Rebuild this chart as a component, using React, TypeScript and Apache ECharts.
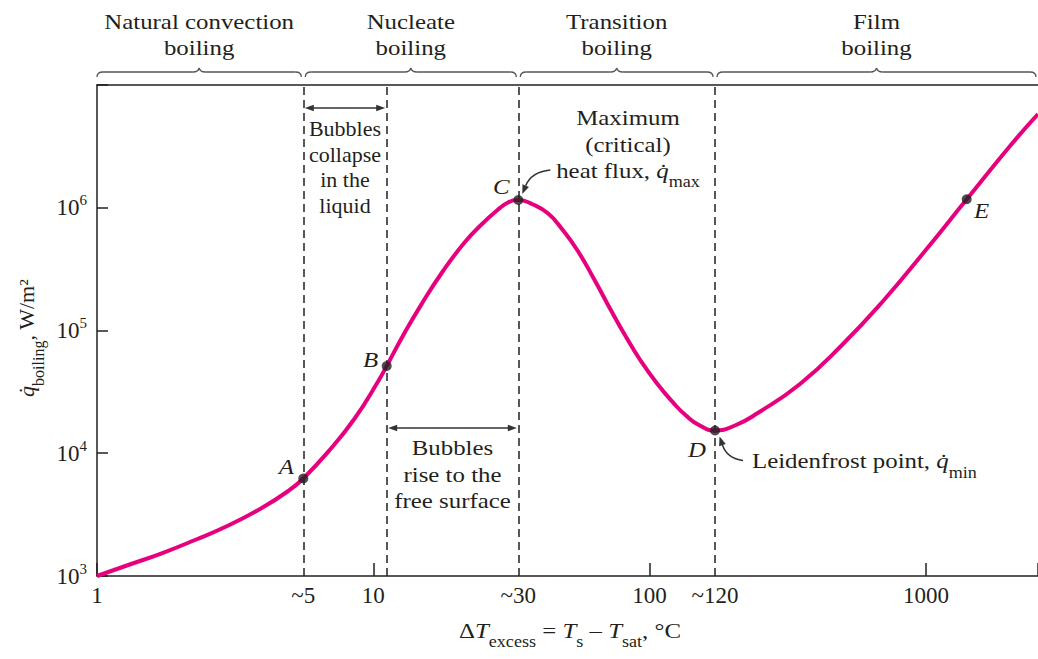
import React, { useEffect, useRef } from 'react';
import * as echarts from 'echarts';

// ---- Data (ΔT_excess in °C, q̇ in W/m²) ----
const curveDeltaT = [
  1, 1.298, 1.715, 2.263, 2.987, 3.946, 4.924, 5.58, 6.873, 8.586, 10.43, 11.18, 12.91, 15.01, 17.88, 21.28, 24.54,
  28.15, 30.73, 33.48, 37.84, 42.84, 48.19, 54.7, 62.92, 72.37, 81.8, 92.47, 106.4, 122.3, 135.4, 150.8, 172.5,
  203.7, 246.2, 350.3, 497, 705.3, 992.4, 1405, 2016, 2545,
];
const curveHeatFlux = [
  1000, 1229, 1530, 1965, 2578, 3581, 4926, 6230, 10300, 19380, 38780, 51400, 93650, 166500, 305200, 513300, 723600,
  958900, 1104000, 1157000, 1063000, 901000, 671300, 452700, 262800, 146900, 90210, 57500, 37000, 25520, 20300, 16990, 15320,
  16830, 21280, 36660, 76190, 177200, 444300, 1172000, 3185000, 5802000,
];

const pointNames = ['A', 'B', 'C', 'D', 'E'];
const pointDeltaT = [5.58, 11.18, 33.48, 172.5, 1405];
const pointHeatFlux = [6230, 51400, 1157000, 15320, 1172000];

const regionNames = ['Natural convection\nboiling', 'Nucleate\nboiling', 'Transition\nboiling', 'Film\nboiling'];
const regionBounds = [1, 5.58, 33.48, 172.5, 2545];
const boundaryLines = [5.58, 11.18, 33.48, 172.5];

const xTickValues = [1, 5.58, 10, 33.48, 100, 172.5, 1000];
const xTickLabels = ['1', '~5', '10', '~30', '100', '~120', '1000'];
const yTickExponents = [3, 4, 5, 6];

const X_MIN = 1;
const X_MAX = 2545;
const Y_MIN = 1e3;
const Y_MAX = 1e7;

// ---- styles ----
const INK = '#231f20';
const GREY = '#555555';
const ARROW = '#333333';
const MAGENTA = '#e6007e';
const FONT = '"Liberation Serif", "Times New Roman", Times, serif';
const SX = 1.13;
const pointLabelOffset: Record<string, [number, number]> = {
  A: [-17, -12],
  B: [-16, -6],
  C: [-17, -13],
  D: [-18, 19],
  E: [15, 11],
};

function text(x: number, y: number, content: string, extra: any = {}, scaleX = SX) {
  return {
    type: 'text',
    x,
    y,
    scaleX,
    z: 10,
    silent: true,
    style: {
      text: content,
      fill: INK,
      fontFamily: FONT,
      fontSize: 22,
      align: 'center',
      textAlign: 'center',
      verticalAlign: 'top',
      textVerticalAlign: 'top',
      lineHeight: 26,
      ...extra,
    },
  };
}

function brace(x0: number, x1: number, y: number) {
  const st = { stroke: GREY, lineWidth: 1.3, fill: null };
  const xm = (x0 + x1) / 2;
  const r = 6;
  const he = 5;
  const hm = 4;
  return [
    { type: 'bezierCurve', z: 10, silent: true, shape: { x1: x0, y1: y + he, cpx1: x0, cpy1: y, x2: x0 + r, y2: y }, style: st },
    { type: 'line', z: 10, silent: true, shape: { x1: x0 + r, y1: y, x2: xm - r, y2: y }, style: st },
    { type: 'bezierCurve', z: 10, silent: true, shape: { x1: xm - r, y1: y, cpx1: xm - 1, cpy1: y, x2: xm, y2: y - hm }, style: st },
    { type: 'bezierCurve', z: 10, silent: true, shape: { x1: xm, y1: y - hm, cpx1: xm + 1, cpy1: y, x2: xm + r, y2: y }, style: st },
    { type: 'line', z: 10, silent: true, shape: { x1: xm + r, y1: y, x2: x1 - r, y2: y }, style: st },
    { type: 'bezierCurve', z: 10, silent: true, shape: { x1: x1 - r, y1: y, cpx1: x1, cpy1: y, x2: x1, y2: y + he }, style: st },
  ];
}

function dblArrow(xa: number, xb: number, y: number) {
  const L = 9;
  const W = 3.2;
  return [
    { type: 'line', z: 10, silent: true, shape: { x1: xa + 3, y1: y, x2: xb - 3, y2: y }, style: { stroke: ARROW, lineWidth: 1.3 } },
    { type: 'polygon', z: 10, silent: true, shape: { points: [[xa, y], [xa + L, y - W], [xa + L, y + W]] }, style: { fill: ARROW } },
    { type: 'polygon', z: 10, silent: true, shape: { points: [[xb, y], [xb - L, y - W], [xb - L, y + W]] }, style: { fill: ARROW } },
  ];
}

function curvedArrow(sx: number, sy: number, cx: number, cy: number, ex: number, ey: number) {
  const dx = ex - cx;
  const dy = ey - cy;
  const len = Math.hypot(dx, dy);
  const ux = dx / len;
  const uy = dy / len;
  const L = 9;
  const W = 3.5;
  const bx = ex - ux * L;
  const by = ey - uy * L;
  return [
    { type: 'bezierCurve', z: 10, silent: true, shape: { x1: sx, y1: sy, cpx1: cx, cpy1: cy, x2: bx, y2: by }, style: { stroke: ARROW, lineWidth: 1.5, fill: null } },
    { type: 'polygon', z: 10, silent: true, shape: { points: [[ex, ey], [bx - uy * W, by + ux * W], [bx + uy * W, by - ux * W]] }, style: { fill: ARROW } },
  ];
}

export default function App() {
  const ref = useRef<HTMLDivElement>(null);

  useEffect(() => {
    const el = ref.current;
    if (!el) return;
    const chart = echarts.init(el, null, { renderer: 'svg' });
    const axisLine = { color: INK, width: 1.5 };

    chart.setOption({
      animation: false,
      grid: { left: 97, right: 0, top: 85, bottom: 83, containLabel: false, outerBoundsMode: 'none' },
      xAxis: [
        {
          type: 'log',
          logBase: 10,
          min: X_MIN,
          max: X_MAX,
          position: 'bottom',
          axisLine: { show: true, onZero: false, lineStyle: axisLine },
          axisTick: { show: true, inside: true, length: 13, lineStyle: axisLine },
          minorTick: { show: false },
          splitLine: { show: false },
          axisLabel: {
            show: true,
            customValues: xTickValues,
            margin: 8,
            color: INK,
            fontFamily: FONT,
            fontSize: 23,
            formatter: (v: number) => {
              const i = xTickValues.findIndex((t) => Math.abs(Math.log10(t) - Math.log10(v)) < 1e-3);
              return i >= 0 ? xTickLabels[i] : '';
            },
          },
        },
        {
          type: 'log',
          logBase: 10,
          min: X_MIN,
          max: X_MAX,
          position: 'top',
          axisLine: { show: true, onZero: false, lineStyle: axisLine },
          axisTick: { show: false },
          axisLabel: { show: false },
          splitLine: { show: false },
        },
      ],
      yAxis: {
        type: 'log',
        logBase: 10,
        min: Y_MIN,
        max: Y_MAX,
        axisLine: { show: true, onZero: false, lineStyle: axisLine },
        axisTick: { show: true, inside: true, length: 11, lineStyle: axisLine },
        minorTick: { show: false },
        splitLine: { show: false },
        axisLabel: {
          margin: 10,
          formatter: (v: number) => {
            const e = Math.round(Math.log10(v));
            return yTickExponents.includes(e) ? `{b|10}{s|${e}}` : '';
          },
          rich: {
            b: { fontSize: 23, fontFamily: FONT, color: INK, lineHeight: 30 },
            s: { fontSize: 15, fontFamily: FONT, color: INK, lineHeight: 15, verticalAlign: 'top' },
          },
        },
      },
      series: [
        {
          type: 'line',
          data: curveDeltaT.map((x, i) => [x, curveHeatFlux[i]]),
          smooth: 0.5,
          symbol: 'none',
          silent: true,
          z: 2,
          lineStyle: { color: MAGENTA, width: 4 },
          markLine: {
            silent: true,
            z: 1,
            symbol: ['none', 'none'],
            label: { show: false },
            emphasis: { disabled: true },
            lineStyle: { color: INK, width: 1.5, type: [8, 5] },
            data: boundaryLines.map((x) => ({ xAxis: x })),
          },
        },
        {
          type: 'scatter',
          data: pointDeltaT.map((x, i) => [x, pointHeatFlux[i]]),
          symbol: 'circle',
          symbolSize: 10,
          silent: true,
          z: 4,
          itemStyle: { color: INK },
        },
      ],
    });

    const px = (v: number) => chart.convertToPixel({ xAxisIndex: 0 }, v) as number;
    const py = (v: number) => chart.convertToPixel({ yAxisIndex: 0 }, v) as number;

    const els: any[] = [];

    // region braces and headers
    for (let i = 0; i < regionNames.length; i++) {
      const x0 = px(regionBounds[i]) + (i === 0 ? 0 : 2);
      const x1 = px(regionBounds[i + 1]) - 2;
      els.push(...brace(x0, x1, 72));
      els.push(text((x0 + x1) / 2, 8.6, regionNames[i]));
    }

    // point letters
    pointNames.forEach((n, i) => {
      const [dx, dy] = pointLabelOffset[n];
      els.push(
        text(px(pointDeltaT[i]) + dx, py(pointHeatFlux[i]) + dy, n, {
          fontStyle: 'italic',
          verticalAlign: 'middle',
          textVerticalAlign: 'middle',
          lineHeight: 22,
        })
      );
    });

    // bubbles collapse
    const xA = px(boundaryLines[0]);
    const xB = px(boundaryLines[1]);
    const xC = px(boundaryLines[2]);
    els.push(...dblArrow(xA + 1.5, xB - 1.5, 108));
    els.push(text((xA + xB) / 2, 115.4, 'Bubbles\ncollapse\nin the\nliquid', { lineHeight: 25.8 }, 1.0));

    // bubbles rise
    els.push(...dblArrow(xB + 1.5, xC - 1.5, 428));
    els.push(text((xB + xC) / 2, 434.3, 'Bubbles\nrise to the\nfree surface', { lineHeight: 26.6 }));

    // maximum heat flux
    els.push(text(628, 104.4, 'Maximum\n(critical)', { lineHeight: 26.5 }));
    els.push(
      text(628, 170.6, '{n|heat flux, }{i|q\u0307}{s|max}', {
        verticalAlign: 'middle',
        textVerticalAlign: 'middle',
        rich: {
          n: { fontSize: 22, fontFamily: FONT, fill: INK, lineHeight: 38 },
          i: { fontSize: 22, fontFamily: FONT, fill: INK, fontStyle: 'italic', lineHeight: 38 },
          s: { fontSize: 16, fontFamily: FONT, fill: INK, lineHeight: 16, verticalAlign: 'bottom' },
        },
      })
    );
    const cx = px(pointDeltaT[2]);
    const cy = py(pointHeatFlux[2]);
    els.push(...curvedArrow(cx + 32, cy - 30, cx + 13, cy - 28, cx + 4, cy - 6));

    // Leidenfrost
    els.push(
      text(752, 460.9, '{n|Leidenfrost point, }{i|q\u0307}{s|min}', {
        align: 'left',
        textAlign: 'left',
        verticalAlign: 'middle',
        textVerticalAlign: 'middle',
        rich: {
          n: { fontSize: 22, fontFamily: FONT, fill: INK, lineHeight: 40 },
          i: { fontSize: 22, fontFamily: FONT, fill: INK, fontStyle: 'italic', lineHeight: 40 },
          s: { fontSize: 16, fontFamily: FONT, fill: INK, lineHeight: 16, verticalAlign: 'bottom' },
        },
      })
    );
    const dxp = px(pointDeltaT[3]);
    const dyp = py(pointHeatFlux[3]);
    els.push(...curvedArrow(dxp + 28, dyp + 30, dxp + 12, dyp + 28, dxp + 4.5, dyp + 6));

    // x-axis title
    els.push(
      text(570, 630.9, '{n|\u0394}{i|T}{s|excess}{n| = }{i|T}{s|s}{n| \u2013 }{i|T}{s|sat}{n|, \u00b0C}', {
        verticalAlign: 'middle',
        textVerticalAlign: 'middle',
        rich: {
          n: { fontSize: 22, fontFamily: FONT, fill: INK, lineHeight: 37 },
          i: { fontSize: 22, fontFamily: FONT, fill: INK, fontStyle: 'italic', lineHeight: 37 },
          s: { fontSize: 16, fontFamily: FONT, fill: INK, lineHeight: 16, verticalAlign: 'bottom' },
        },
      })
    );

    // y-axis title (rotated)
    els.push({
      type: 'text',
      x: 26,
      y: 338,
      rotation: Math.PI / 2,
      z: 10,
      silent: true,
      style: {
        text: '{i|q\u0307}{s|boiling}{n|, W/m\u00b2}',
        fill: INK,
        fontFamily: FONT,
        fontSize: 22,
        align: 'center',
        textAlign: 'center',
        verticalAlign: 'middle',
        textVerticalAlign: 'middle',
        rich: {
          n: { fontSize: 22, fontFamily: FONT, fill: INK, lineHeight: 40 },
          i: { fontSize: 22, fontFamily: FONT, fill: INK, fontStyle: 'italic', lineHeight: 40 },
          s: { fontSize: 16, fontFamily: FONT, fill: INK, lineHeight: 16, verticalAlign: 'bottom' },
        },
      },
    });

    chart.setOption({ graphic: { elements: els } });

    return () => {
      chart.dispose();
    };
  }, []);

  return <div ref={ref} style={{ position: 'absolute', left: 0, top: 0, width: 1038, height: 659 }} />;
}
